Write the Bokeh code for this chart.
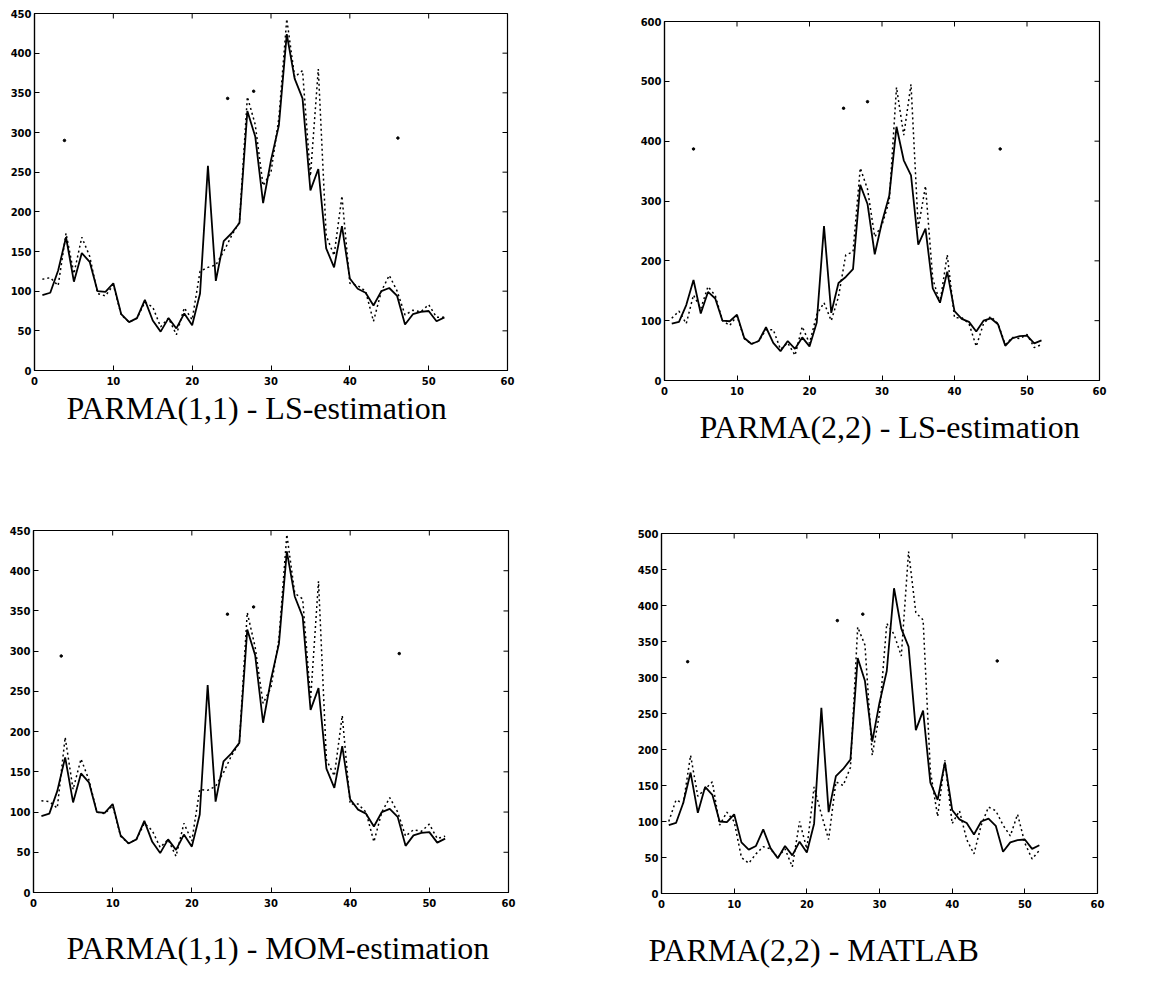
import math

from bokeh.plotting import figure
from bokeh.models import Range1d, FixedTicker, Title, Spacer
from bokeh.layouts import column, row
from bokeh.embed import file_html
from bokeh.resources import INLINE

# week index of the seasonal series
weeks = list(range(1, 53))

# observed weekly series (solid line, same in every panel)
observed = [95, 98, 126, 168, 112, 148, 137, 100, 99, 110, 71, 61, 66, 89, 63, 49,
            66, 53, 72, 57, 97, 258, 113, 163, 173, 186, 327, 295, 211, 265, 309, 424,
            368, 343, 227, 254, 154, 130, 182, 116, 103, 98, 82, 100, 104, 94, 58, 71,
            74, 75, 62, 67]

# fitted series (dotted lines)
ls_parma11 = [115, 117, 107, 173, 122, 168, 144, 97, 94, 108, 70, 61, 66, 86, 80, 55,
              66, 45, 79, 64, 125, 130, 133, 150, 170, 187, 345, 310, 233, 250, 318, 443,
              370, 378, 245, 380, 170, 145, 220, 110, 107, 100, 62, 100, 120, 100, 70, 76,
              74, 83, 67, 67]
ls_parma22 = [104, 116, 95, 143, 120, 157, 142, 100, 92, 108, 70, 61, 66, 85, 85, 52,
              63, 42, 90, 62, 110, 130, 100, 140, 210, 215, 355, 320, 240, 260, 300, 490,
              410, 495, 255, 325, 170, 130, 210, 105, 105, 95, 57, 95, 107, 95, 60, 72,
              70, 77, 55, 60]
mom_parma11 = [114, 113, 105, 193, 128, 166, 140, 100, 98, 108, 70, 61, 66, 86, 77, 56,
               66, 45, 86, 64, 128, 127, 132, 149, 170, 186, 348, 305, 235, 255, 315, 445,
               372, 365, 240, 387, 165, 145, 220, 110, 110, 100, 63, 100, 118, 100, 70, 78,
               76, 85, 67, 70]
matlab_parma22 = [100, 130, 125, 192, 135, 145, 155, 95, 113, 100, 50, 42, 55, 65, 62, 50,
                  62, 37, 100, 62, 148, 110, 75, 155, 150, 175, 370, 345, 192, 250, 375, 360,
                  330, 475, 390, 380, 170, 107, 185, 97, 115, 75, 55, 95, 120, 115, 95, 80,
                  110, 70, 48, 60]

# isolated point marks in each panel
dots11_x = [3.8, 24.5, 27.8, 46.1]
dots11_y = [290, 343, 352, 293]
dots22_x = [4.0, 24.7, 28.0, 46.3]
dots22_y = [387, 455, 466, 387]
dotsmom_x = [3.5, 24.5, 27.8, 46.2]
dotsmom_y = [294, 346, 355, 297]
dotsmat_x = [3.6, 24.2, 27.7, 46.2]
dotsmat_y = [322, 379, 388, 323]

x_ticks = [0, 10, 20, 30, 40, 50, 60]
x_max = 60

titles = ["PARMA(1,1) - LS-estimation", "PARMA(2,2) - LS-estimation",
          "PARMA(1,1) - MOM-estimation", "PARMA(2,2) - MATLAB"]


def panel(title, fitted, ymax, ystep, dx, dy, fw, fh, bl, br, bt, bb, toff, tstand):
    p = figure(frame_width=fw, frame_height=fh, title=None,
               x_range=Range1d(0, x_max), y_range=Range1d(0, ymax),
               output_backend="svg", toolbar_location=None,
               min_border_left=bl, min_border_right=br,
               min_border_top=bt, min_border_bottom=bb,
               background_fill_color="white", border_fill_color="white")
    p.grid.visible = False
    p.outline_line_color = "black"
    p.outline_line_width = 1.2

    y_ticks = list(range(0, ymax + 1, ystep))
    p.xaxis.ticker = FixedTicker(ticks=x_ticks)
    p.yaxis.ticker = FixedTicker(ticks=y_ticks)
    for ax in (p.xaxis[0], p.yaxis[0]):
        ax.major_tick_in = 5
        ax.major_tick_out = 0
        ax.minor_tick_line_color = None
        ax.axis_line_color = "black"
        ax.axis_line_width = 1.2
        ax.major_tick_line_color = "black"
        ax.major_label_text_font = "DejaVu Sans"
        ax.major_label_text_font_style = "bold"
        ax.major_label_text_font_size = "10px"
        ax.major_label_text_color = "black"
    p.xaxis.major_label_standoff = 6
    p.yaxis.major_label_standoff = 3

    # inward tick marks along the top and right edges of the box
    p.ray(x=x_ticks, y=[ymax] * len(x_ticks), length=5, length_units="screen",
          angle=-math.pi / 2, line_color="black", line_width=1)
    p.ray(x=[x_max] * len(y_ticks), y=y_ticks, length=5, length_units="screen",
          angle=math.pi, line_color="black", line_width=1)

    p.line(weeks, fitted, line_color="black", line_width=1.5, line_dash="2 3")
    p.line(weeks, observed, line_color="black", line_width=1.8)
    p.scatter(dx, dy, size=2.5, color="black")

    t = Title(text=title, align="left", offset=toff, standoff=tstand,
              text_font="Liberation Serif", text_font_size="32px",
              text_font_style="normal", text_color="black")
    p.add_layout(t, "below")
    return p


p1 = panel(titles[0], ls_parma11, 450, 50, dots11_x, dots11_y,
           473, 357, 34, 57, 13, 100, 32, 0)
p2 = panel(titles[1], ls_parma22, 600, 100, dots22_x, dots22_y,
           435, 359, 100, 40, 13, 90, 35, 18)
p3 = panel(titles[2], mom_parma11, 450, 50, dotsmom_x, dotsmom_y,
           475, 362, 33, 56, 60, 95, 33, 36)
p4 = panel(titles[3], matlab_parma22, 500, 50, dotsmat_x, dotsmat_y,
           436, 360, 97, 40, 60, 94, -13, 38)

# the right-hand panels sit slightly lower than the left-hand ones
top_row = row(p1, column(Spacer(height=8, width=10), p2))
bottom_row = row(p3, column(Spacer(height=3, width=10), p4))
layout = column(top_row, bottom_row)

open("out.html", "w").write(file_html(layout, INLINE))
